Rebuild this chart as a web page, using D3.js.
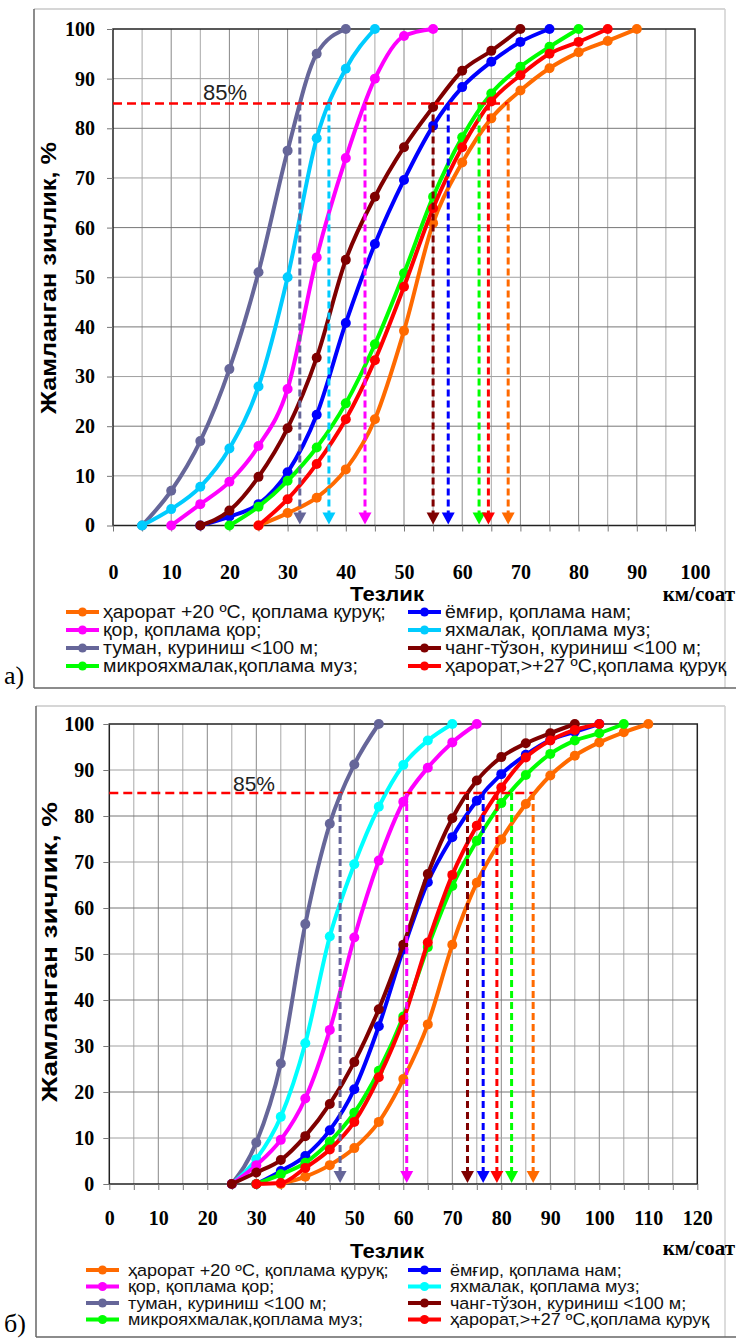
<!DOCTYPE html>
<html>
<head>
<meta charset="utf-8">
<script src="https://cdn.jsdelivr.net/npm/d3@7/dist/d3.min.js"></script>
<style>
body { margin: 0; background: #fff; }
</style>
</head>
<body>
<script>
// серия номлари (иккала графикда бир хил тартиб)
const names = [
    "ҳарорат +20 ºС, қоплама қуруқ;",
    "ёмғир, қоплама нам;",
    "қор, қоплама қор;",
    "яхмалак, қоплама муз;",
    "туман, куриниш <100 м;",
    "чанг-тўзон, куриниш <100 м;",
    "микрояхмалак,қоплама муз;",
    "ҳарорат,>+27 ºС,қоплама қуруқ"
]
const colors = ["#ff6a00", "#0000ff", "#ff00ff", "#00ccff", "#666699", "#7f0000", "#00ff00", "#ff0000"]

const yTicks = [0, 10, 20, 30, 40, 50, 60, 70, 80, 90, 100]
const xTicksA = [0, 10, 20, 30, 40, 50, 60, 70, 80, 90, 100]
const xTicksB = [0, 10, 20, 30, 40, 50, 60, 70, 80, 90, 100, 110, 120]

// а) тезлик, км/соат
const speedsA = [
    [25, 30, 35, 40, 45, 50, 55, 60, 65, 70, 75, 80, 85, 90],
    [15, 20, 25, 30, 35, 40, 45, 50, 55, 60, 65, 70, 75],
    [10, 15, 20, 25, 30, 35, 40, 45, 50, 55],
    [5, 10, 15, 20, 25, 30, 35, 40, 45],
    [5, 10, 15, 20, 25, 30, 35, 40],
    [15, 20, 25, 30, 35, 40, 45, 50, 55, 60, 65, 70],
    [20, 25, 30, 35, 40, 45, 50, 55, 60, 65, 70, 75, 80],
    [25, 30, 35, 40, 45, 50, 55, 60, 65, 70, 75, 80, 85]
]
// а) жамланган зичлик, %
const valuesA = [
    [0, 2.5, 5.6, 11.3, 21.4, 39.2, 60.9, 73.1, 82, 87.6, 92.1, 95.3, 97.6, 100],
    [0, 1.8, 4.3, 10.7, 22.3, 40.8, 56.7, 69.6, 80.5, 88.3, 93.4, 97.4, 100],
    [0, 4.3, 8.8, 16, 27.5, 54, 74, 90, 98.6, 100],
    [0, 3.3, 7.8, 15.5, 28, 50, 78, 92, 100],
    [0, 7, 17, 31.5, 51, 75.5, 95, 100],
    [0, 3, 9.8, 19.6, 33.8, 53.5, 66.2, 76.2, 84.3, 91.6, 95.6, 100],
    [0, 3.8, 9, 15.7, 24.6, 36.5, 50.8, 66.2, 78.2, 87, 92.4, 96.4, 100],
    [0, 5.3, 12.4, 21.4, 33.3, 48.1, 63.9, 76.2, 85.4, 90.7, 95, 97.4, 100]
]
// а) 85% даги тезликлар
const v85A = [67.9, 57.6, 43.3, 37.1, 32.1, 55.0, 62.9, 64.5]

// б) тезлик, км/соат
const speedsB = [
    [35, 40, 45, 50, 55, 60, 65, 70, 75, 80, 85, 90, 95, 100, 105, 110],
    [30, 35, 40, 45, 50, 55, 60, 65, 70, 75, 80, 85, 90, 95, 100],
    [25, 30, 35, 40, 45, 50, 55, 60, 65, 70, 75],
    [25, 30, 35, 40, 45, 50, 55, 60, 65, 70],
    [25, 30, 35, 40, 45, 50, 55],
    [25, 30, 35, 40, 45, 50, 55, 60, 65, 70, 75, 80, 85, 90, 95],
    [30, 35, 40, 45, 50, 55, 60, 65, 70, 75, 80, 85, 90, 95, 100, 105],
    [30, 35, 40, 45, 50, 55, 60, 65, 70, 75, 80, 85, 90, 95, 100]
]
// б) жамланган зичлик, %
const valuesB = [
    [0, 1.6, 4.1, 7.8, 13.5, 22.8, 34.7, 52, 65.5, 74.9, 82.6, 88.8, 93.1, 96, 98.2, 100],
    [0, 2.8, 6.1, 11.7, 20.6, 34.3, 51, 65.6, 75.4, 83.3, 89.1, 93.3, 96.5, 98.3, 100],
    [0, 4.1, 9.6, 18.6, 33.5, 53.6, 70.3, 83.1, 90.5, 96, 100],
    [0, 5.4, 14.6, 30.6, 53.8, 69.5, 82, 91.1, 96.4, 100],
    [0, 9, 26.2, 56.5, 78.3, 91.2, 100],
    [0, 2.5, 5.2, 10.4, 17.4, 26.5, 38, 52, 67.4, 79.5, 87.7, 92.8, 95.8, 98, 100],
    [0, 2.1, 4.6, 9.2, 15.5, 24.6, 36.4, 51.5, 64.8, 74.6, 82.8, 88.9, 93.5, 96.4, 98, 100],
    [0, 0.2, 3.5, 7.5, 13.5, 23.2, 35.7, 52.5, 67.2, 77.9, 86.2, 92.7, 96.4, 98.7, 100]
]
// б) 85% даги тезликлар (яхмалак учун стрелка йўқ)
const v85B = [86.5, 76.3, 60.7, null, 47.1, 73.1, 82.1, 79.1]

const drawOrder = [4, 3, 2, 1, 5, 0, 6, 7]

const svg = d3.select("body")
    .append("svg")
    .attr("width", 736)
    .attr("height", 1339)

function drawPanel(p) {
    const x = d3.scaleLinear().domain([0, p.xMax]).range([p.left, p.right])
    const y = d3.scaleLinear().domain([0, 100]).range([p.bottom, p.top])
    const g = svg.append("g")

    // ташқи рамка
    g.append("line").attr("x1", p.frame[0]).attr("y1", p.frame[1]).attr("x2", p.frame[2]).attr("y2", p.frame[1])
        .attr("stroke", "#c8c8c8").attr("stroke-width", 1.5)
    g.append("line").attr("x1", p.frame[2]).attr("y1", p.frame[1]).attr("x2", p.frame[2]).attr("y2", p.frame[3])
        .attr("stroke", "#d0d0d0").attr("stroke-width", 1.5)
    g.append("line").attr("x1", p.frame[0]).attr("y1", p.frame[1]).attr("x2", p.frame[0]).attr("y2", p.frame[3])
        .attr("stroke", "#666").attr("stroke-width", 1.5)
    g.append("line").attr("x1", p.frame[0]).attr("y1", p.frame[3]).attr("x2", 736).attr("y2", p.frame[3])
        .attr("stroke", "#666").attr("stroke-width", 1.5)

    // тўр чизиқлари
    g.selectAll(".vgrid")
        .data(d3.range(5, p.xMax, 5))
        .enter()
        .append("line")
        .attr("x1", d => x(d)).attr("x2", d => x(d))
        .attr("y1", p.top).attr("y2", p.bottom)
        .attr("stroke", d => d % 10 === 0 ? "#888" : "#a8a8a8")
        .attr("stroke-width", 1)
    g.selectAll(".hgrid")
        .data(yTicks.slice(1, -1))
        .enter()
        .append("line")
        .attr("x1", p.left).attr("x2", p.right)
        .attr("y1", d => y(d)).attr("y2", d => y(d))
        .attr("stroke", d => d % 20 === 0 ? "#777" : "#a0a0a0")
        .attr("stroke-width", 1)

    g.append("rect")
        .attr("x", p.left).attr("y", p.top)
        .attr("width", p.right - p.left).attr("height", p.bottom - p.top)
        .attr("fill", "none").attr("stroke", "#222").attr("stroke-width", 1.5)

    // ўқлар
    const xAxis = g.append("g")
        .attr("transform", `translate(0,${p.bottom})`)
        .call(d3.axisBottom(x)
            .tickValues(d3.range(0, p.xMax + 1, 5))
            .tickSize(6)
            .tickPadding(p.xPad)
            .tickFormat(d => p.xTicks.includes(d) ? d : ""))
    const yAxis = g.append("g")
        .attr("transform", `translate(${p.left},0)`)
        .call(d3.axisLeft(y).tickValues(yTicks).tickSize(6).tickPadding(p.yPad))
    ;[xAxis, yAxis].forEach(a => {
        a.select(".domain").remove()
        a.selectAll("line").attr("stroke", "#777")
        a.selectAll("text")
            .attr("fill", "#000")
            .style("font-family", "'Liberation Serif', serif")
            .style("font-weight", "bold")
            .style("font-size", "20px")
    })

    // чизиқлар ва нуқталар
    const line = d3.line()
        .x(d => x(d[0]))
        .y(d => y(d[1]))
        .curve(d3.curveMonotoneX)

    drawOrder.forEach(i => {
        const pts = p.speeds[i].map((s, j) => [s, p.values[i][j]])
        g.append("path")
            .datum(pts)
            .attr("d", line)
            .attr("fill", "none")
            .attr("stroke", p.colors[i])
            .attr("stroke-width", 4)
            .attr("stroke-linejoin", "round")
        g.selectAll(null)
            .data(pts)
            .enter()
            .append("circle")
            .attr("cx", d => x(d[0]))
            .attr("cy", d => y(d[1]))
            .attr("r", 5)
            .attr("fill", p.colors[i])
    })

    // 85% чизиғи
    const maxV = d3.max(p.v85)
    g.append("line")
        .attr("x1", x(0)).attr("x2", x(maxV))
        .attr("y1", y(85)).attr("y2", y(85))
        .attr("stroke", "#ff0000")
        .attr("stroke-width", 2.5)
        .attr("stroke-dasharray", "9,5")
    g.append("text")
        .attr("x", p.label85[0]).attr("y", p.label85[1])
        .text("85%")
        .style("font-family", "'Liberation Sans', Arial, sans-serif")
        .style("font-size", p.label85[2] + "px")
        .attr("fill", "#222")

    p.v85.forEach((v, i) => {
        if (v === null) return
        g.append("line")
            .attr("x1", x(v)).attr("x2", x(v))
            .attr("y1", y(85)).attr("y2", y(0) - 11)
            .attr("stroke", p.colors[i])
            .attr("stroke-width", 3)
            .attr("stroke-dasharray", "7,4")
        g.append("path")
            .attr("d", `M${x(v) - 6.5},${y(0) - 13}L${x(v) + 6.5},${y(0) - 13}L${x(v)},${y(0) - 1}Z`)
            .attr("fill", p.colors[i])
    })

    // ўқ номлари
    g.append("text")
        .attr("transform", `translate(${p.yTitle[0]},${p.yTitle[1]}) rotate(-90)`)
        .attr("text-anchor", "middle")
        .attr("textLength", p.yTitle[2])
        .attr("lengthAdjust", "spacingAndGlyphs")
        .text("Жамланган зичлик, %")
        .style("font-family", "'Liberation Sans', Arial, sans-serif")
        .style("font-weight", "bold")
        .style("font-size", "22px")
    g.append("text")
        .attr("x", 387).attr("y", p.xTitleY)
        .attr("text-anchor", "middle")
        .attr("textLength", 74)
        .attr("lengthAdjust", "spacingAndGlyphs")
        .text("Тезлик")
        .style("font-family", "'Liberation Sans', Arial, sans-serif")
        .style("font-weight", "bold")
        .style("font-size", "21px")
    g.append("text")
        .attr("x", 735).attr("y", p.unitY)
        .attr("text-anchor", "end")
        .text("км/соат")
        .style("font-family", "'Liberation Serif', serif")
        .style("font-weight", "bold")
        .style("font-size", "21px")

    // легенда
    names.forEach((name, i) => {
        const col = i % 2
        const row = Math.floor(i / 2)
        const lx = p.legendX[col]
        const ly = p.legendY[row]
        g.append("line")
            .attr("x1", lx).attr("x2", lx + 33)
            .attr("y1", ly).attr("y2", ly)
            .attr("stroke", p.colors[i])
            .attr("stroke-width", 4)
        g.append("circle")
            .attr("cx", lx + 16.5).attr("cy", ly)
            .attr("r", 4.5)
            .attr("fill", p.colors[i])
        const t = g.append("text")
            .attr("x", lx + p.legendGap).attr("y", ly + 5.5)
            .text(name)
            .style("font-family", "'Liberation Sans', Arial, sans-serif")
            .style("font-size", p.legendFont + "px")
            .attr("fill", "#111")
        // матн кенглигини кенгроқ шрифтдагидек сақлаш
        const w = t.node().getComputedTextLength()
        t.attr("textLength", w * p.legendStretch).attr("lengthAdjust", "spacingAndGlyphs")
    })

    g.append("text")
        .attr("x", 4).attr("y", p.tagY)
        .text(p.tag)
        .style("font-family", "'Liberation Serif', serif")
        .style("font-size", "26px")
}

drawPanel({
    left: 113, right: 695, top: 29, bottom: 525.5, xMax: 100,
    frame: [34, 9, 725, 688],
    xTicks: xTicksA, xPad: 33, yPad: 12,
    speeds: speedsA, values: valuesA, v85: v85A, colors: colors,
    label85: [203, 100, 22],
    yTitle: [56, 278, 272], xTitleY: 601, unitY: 601,
    legendX: [66, 408], legendY: [612, 630, 648, 666], legendGap: 37,
    legendFont: 18, legendStretch: 19.5 / 18,
    tag: "а)", tagY: 684
})

drawPanel({
    left: 109.3, right: 697.3, top: 724, bottom: 1184, xMax: 120,
    frame: [36, 706, 725, 1337],
    xTicks: xTicksB, xPad: 21, yPad: 9,
    speeds: speedsB, values: valuesB, v85: v85B,
    colors: colors.map((c, i) => i === 3 ? "#00ffff" : c),
    label85: [233, 791, 21],
    yTitle: [57, 952, 300], xTitleY: 1258, unitY: 1255,
    legendX: [86, 408], legendY: [1270, 1286.5, 1303, 1319.5], legendGap: 42,
    legendFont: 16.3, legendStretch: 18 / 16.3,
    tag: "б)", tagY: 1332
})
</script>
</body>
</html>
